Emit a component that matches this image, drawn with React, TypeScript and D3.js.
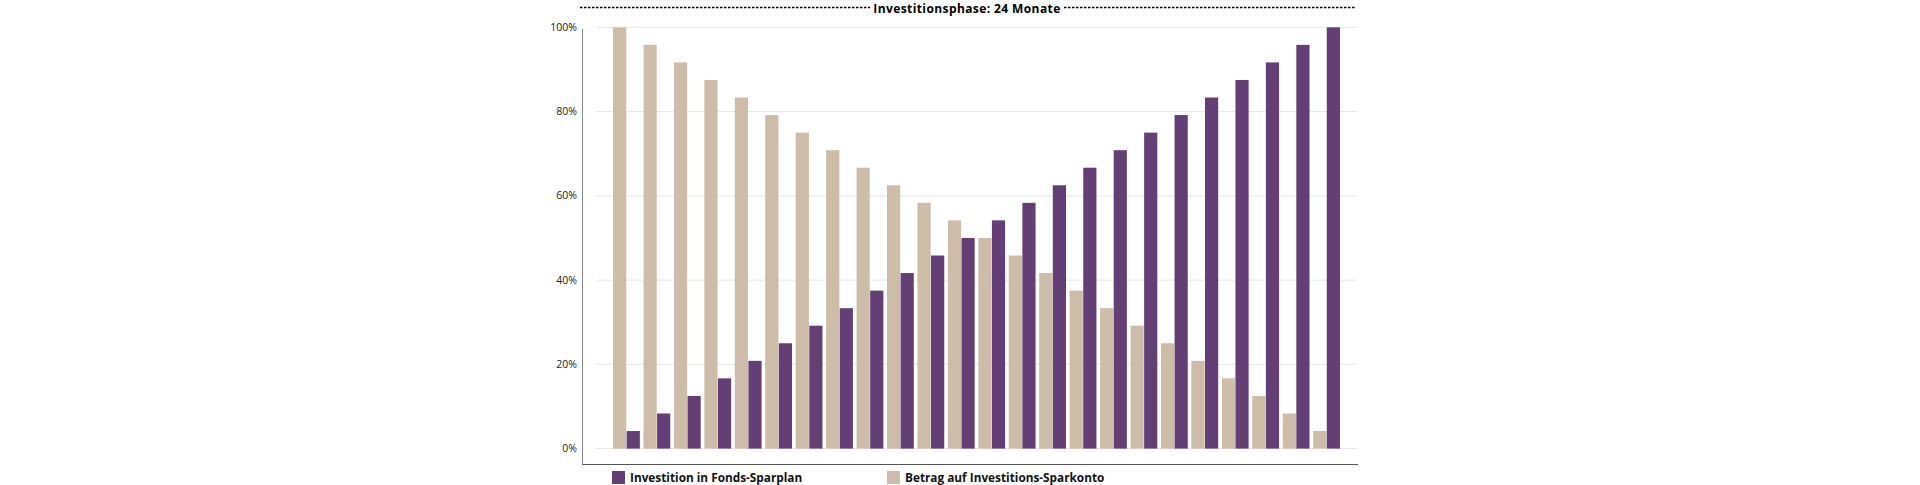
import React, { useRef, useEffect } from 'react';
import * as d3 from 'd3';

const months = d3.range(1, 25).map(String);

// Anteil Investition in Fonds-Sparplan (%)
const fondsValues = [
  4.17, 8.33, 12.5, 16.67, 20.83, 25, 29.17, 33.33, 37.5, 41.67, 45.83, 50,
  54.17, 58.33, 62.5, 66.67, 70.83, 75, 79.17, 83.33, 87.5, 91.67, 95.83, 100,
];

// Anteil Betrag auf Investitions-Sparkonto (%)
const kontoValues = [
  100, 95.83, 91.67, 87.5, 83.33, 79.17, 75, 70.83, 66.67, 62.5, 58.33, 54.17,
  50, 45.83, 41.67, 37.5, 33.33, 29.17, 25, 20.83, 16.67, 12.5, 8.33, 4.17,
];

const yTicks = [0, 20, 40, 60, 80, 100];

const seriesNames = ['konto', 'fonds'];
const legendItems = [
  { key: 'fonds', label: 'Investition in Fonds-Sparplan' },
  { key: 'konto', label: 'Betrag auf Investitions-Sparkonto' },
];
const titleText = 'Investitionsphase: 24 Monate';

const colors: Record<string, string> = {
  fonds: '#633f75',
  konto: '#cdbca8',
};

const font = '"Open Sans", "Noto Sans", sans-serif';

const App: React.FC = () => {
  const svgRef = useRef<SVGSVGElement>(null);
  const width = 1920;
  const height = 485;

  useEffect(() => {
    if (!svgRef.current) return;
    const svg = d3.select(svgRef.current);
    svg.selectAll('*').remove();

    const plotLeft = 596;
    const plotRight = 1357;
    const axisX = 582;
    const axisBottom = 464;

    const x0 = d3.scaleBand()
      .domain(months)
      .range([plotLeft, plotRight])
      .paddingInner(0.12)
      .paddingOuter(0.56);

    const x1 = d3.scaleBand()
      .domain(seriesNames)
      .range([0, x0.bandwidth()])
      .paddingInner(0.03);

    const y = d3.scaleLinear()
      .domain([0, 100])
      .range([448.6, 27.3]);

    // gridlines
    svg.append('g')
      .selectAll('line')
      .data(yTicks)
      .enter()
      .append('line')
      .attr('x1', plotLeft)
      .attr('x2', plotRight)
      .attr('y1', d => y(d))
      .attr('y2', d => y(d))
      .attr('stroke', '#e6e6e6')
      .attr('stroke-width', 1);

    // tick labels
    svg.append('g')
      .selectAll('text')
      .data(yTicks)
      .enter()
      .append('text')
      .attr('x', 577)
      .attr('y', d => y(d))
      .attr('dy', '0.35em')
      .attr('text-anchor', 'end')
      .attr('font-family', font)
      .attr('font-size', '10.5px')
      .attr('fill', '#222')
      .text(d => `${d}%`);

    // bars
    const rows = months.map((m, i) => ({ month: m, fonds: fondsValues[i], konto: kontoValues[i] }));
    const groups = svg.append('g')
      .selectAll('g')
      .data(rows)
      .enter()
      .append('g')
      .attr('transform', d => `translate(${x0(d.month)},0)`);

    groups.selectAll('rect')
      .data(d => seriesNames.map(key => ({ key, value: (d as any)[key] as number })))
      .enter()
      .append('rect')
      .attr('x', d => x1(d.key)!)
      .attr('width', x1.bandwidth())
      .attr('y', d => y(d.value))
      .attr('height', d => y(0) - y(d.value))
      .attr('fill', d => colors[d.key]);

    // axes lines
    svg.append('line')
      .attr('x1', axisX + 0.5)
      .attr('x2', axisX + 0.5)
      .attr('y1', 29)
      .attr('y2', axisBottom)
      .attr('stroke', '#888')
      .attr('stroke-width', 1);

    svg.append('line')
      .attr('x1', axisX)
      .attr('x2', 1358)
      .attr('y1', axisBottom + 0.5)
      .attr('y2', axisBottom + 0.5)
      .attr('stroke', '#555')
      .attr('stroke-width', 1);

    // title with dotted line
    svg.append('line')
      .attr('x1', 580)
      .attr('x2', 1356)
      .attr('y1', 7.5)
      .attr('y2', 7.5)
      .attr('stroke', '#000')
      .attr('stroke-width', 1.5)
      .attr('stroke-dasharray', '2.5,1.5');

    const titleG = svg.append('g');
    const titleBg = titleG.append('rect').attr('fill', '#fff');
    const title = titleG.append('text')
      .attr('x', 967)
      .attr('y', 12.8)
      .attr('text-anchor', 'middle')
      .attr('font-family', font)
      .attr('font-size', '12px')
      .attr('letter-spacing', '0.4px')
      .attr('font-weight', 700)
      .attr('fill', '#000')
      .text(titleText);
    const tb = (title.node() as SVGTextElement).getBBox();
    titleBg
      .attr('x', tb.x - 3)
      .attr('y', 0)
      .attr('width', tb.width + 6)
      .attr('height', 16);

    // legend
    const legendX = [612, 887];
    const legend = svg.append('g')
      .selectAll('g')
      .data(legendItems)
      .enter()
      .append('g')
      .attr('transform', (_d, i) => `translate(${legendX[i]},471)`);

    legend.append('rect')
      .attr('width', 13)
      .attr('height', 13)
      .attr('fill', d => colors[d.key]);

    legend.append('text')
      .attr('x', 18)
      .attr('y', 10.5)
      .attr('font-family', font)
      .attr('font-size', '11.8px')
      .attr('font-weight', 700)
      .attr('fill', '#111')
      .text(d => d.label);
  }, []);

  return (
    <svg
      ref={svgRef}
      width={width}
      height={height}
      style={{ position: 'absolute', left: 0, top: 0, background: '#fff' }}
    />
  );
};

export default App;
